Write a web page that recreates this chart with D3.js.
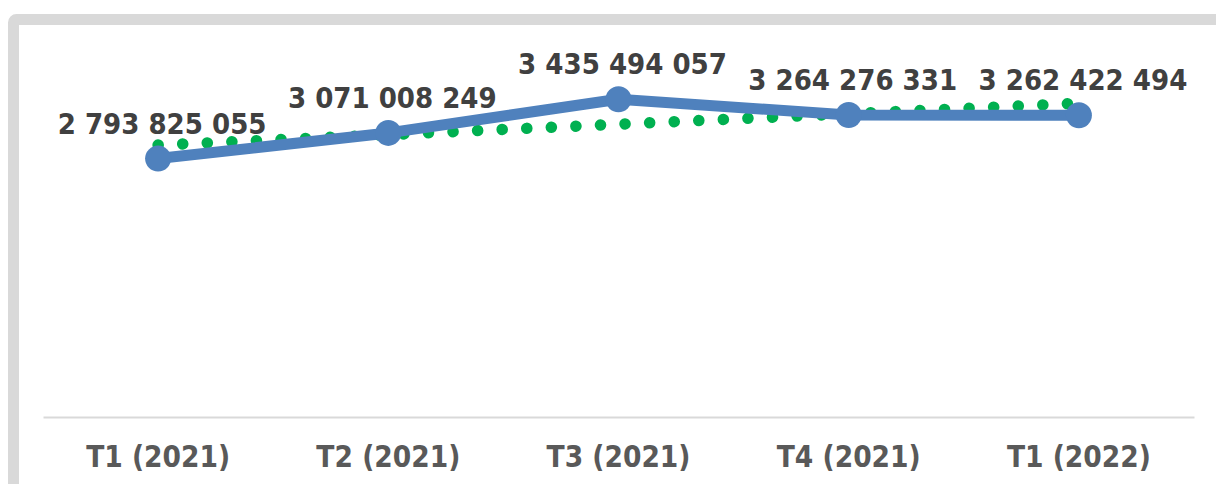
<!DOCTYPE html>
<html>
<head>
<meta charset="utf-8">
<script src="https://cdn.jsdelivr.net/npm/d3@7"></script>
<style>
  body { margin: 0; background: #fff; }
  svg { display: block; }
  .lbl { font-family: "DejaVu Sans", Verdana, sans-serif; font-stretch: condensed; font-weight: bold; }
</style>
</head>
<body>
<svg></svg>
<script>
// data
var categories = ["T1 (2021)", "T2 (2021)", "T3 (2021)", "T4 (2021)", "T1 (2022)"];
var values = [2793825055, 3071008249, 3435494057, 3264276331, 3262422494];
var yDomain = [0, 4000000000];

// basic settings
var svgWidth = 1216, svgHeight = 484;
var plotLeft = 43, plotRight = 1194, plotTop = 47, plotBottom = 417;

var svg = d3.select('svg')
  .attr('width', svgWidth)
  .attr('height', svgHeight);

// outer frame (chart area border, partly cut off)
svg.append('rect')
  .attr('x', 13.5).attr('y', 19.5)
  .attr('width', 1400).attr('height', 600)
  .attr('rx', 3)
  .attr('fill', '#fff')
  .attr('stroke', '#d9d9d9')
  .attr('stroke-width', 11);

var x = d3.scaleBand()
  .domain(categories)
  .range([plotLeft, plotRight]);

var y = d3.scaleLinear()
  .domain(yDomain)
  .range([plotBottom, plotTop]);

var cx = function(d) { return x(d) + x.bandwidth() / 2; };

// category axis
var xAxis = d3.axisBottom(x).tickSize(0).tickPadding(0);
var xAxisEle = svg.append('g')
  .attr('transform', 'translate(0,' + plotBottom + ')')
  .call(xAxis);
xAxisEle.select('.domain')
  .attr('stroke', '#d9d9d9')
  .attr('stroke-width', 2);
xAxisEle.selectAll('text')
  .attr('class', 'lbl')
  .attr('y', 50)
  .attr('dy', 0)
  .attr('fill', '#595959')
  .attr('font-size', 29.5);

// linear trendline (least squares on category index)
var xm = d3.mean(values, function(d, i) { return i; });
var ym = d3.mean(values);
var slope = d3.sum(values, function(d, i) { return (i - xm) * (d - ym); }) /
  d3.sum(values, function(d, i) { return (i - xm) * (i - xm); });
var trend = categories.map(function(c, i) { return ym + slope * (i - xm); });

svg.append('path')
  .datum(trend)
  .attr('fill', 'none')
  .attr('stroke', '#00b050')
  .attr('stroke-width', 11.5)
  .attr('stroke-linecap', 'round')
  .attr('stroke-dasharray', '0.1,24.5')
  .attr('d', d3.line()
    .x(function(d, i) { return cx(categories[i]); })
    .y(function(d) { return y(d); }));

// main series
svg.append('path')
  .datum(values)
  .attr('fill', 'none')
  .attr('stroke', '#4f81bd')
  .attr('stroke-width', 11)
  .attr('stroke-linejoin', 'round')
  .attr('d', d3.line()
    .x(function(d, i) { return cx(categories[i]); })
    .y(function(d) { return y(d); }));

svg.selectAll('circle.pt')
  .data(values)
  .enter()
  .append('circle')
  .attr('class', 'pt')
  .attr('cx', function(d, i) { return cx(categories[i]); })
  .attr('cy', function(d) { return y(d); })
  .attr('r', 13)
  .attr('fill', '#4f81bd');

// data labels
var fmt = function(d) { return d3.format(',')(d).replace(/,/g, ' '); };
svg.selectAll('text.val')
  .data(values)
  .enter()
  .append('text')
  .attr('class', 'val lbl')
  .attr('x', function(d, i) { return cx(categories[i]) + 4; })
  .attr('y', function(d) { return y(d) - 25; })
  .attr('text-anchor', 'middle')
  .attr('fill', '#404040')
  .attr('font-size', 29)
  .text(fmt);
</script>
</body>
</html>
